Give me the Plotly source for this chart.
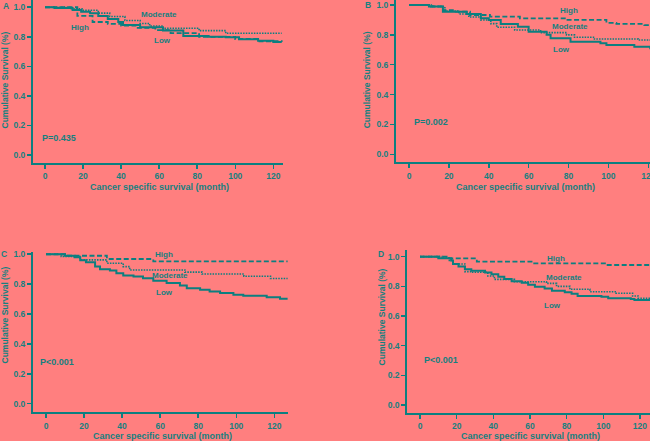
import plotly.graph_objects as go

# ---------------- data ----------------
# Panel A
a_low_t = [0, 5, 14.5, 19, 23.7, 28, 33, 38.5, 41, 50, 62, 72.7, 86, 95, 102, 112, 120, 124.4]
a_low_s = [1.0, 0.995, 0.982, 0.97, 0.96, 0.94, 0.92, 0.90, 0.88, 0.865, 0.842, 0.806, 0.80, 0.797, 0.783, 0.774, 0.765, 0.765]
a_mod_t = [0, 13, 20, 28, 34, 42, 50, 55, 62, 81, 95, 124.4]
a_mod_s = [1.0, 0.99, 0.98, 0.96, 0.937, 0.91, 0.89, 0.873, 0.858, 0.842, 0.824, 0.824]
a_high_t = [0, 17, 25, 33, 40, 48, 58, 66, 81, 100, 112, 124.4]
a_high_s = [1.0, 0.941, 0.90, 0.887, 0.875, 0.86, 0.845, 0.825, 0.80, 0.785, 0.77, 0.765]

# Panel B
b_low_t = [0, 10, 17, 29, 36, 40, 46, 54.6, 60, 69, 71, 81, 96, 99, 113, 121]
b_low_s = [1.0, 0.99, 0.955, 0.94, 0.911, 0.90, 0.873, 0.855, 0.821, 0.80, 0.777, 0.754, 0.743, 0.732, 0.721, 0.703]
b_mod_t = [0, 12, 18, 25, 30, 36, 41, 44, 53, 66, 79, 83, 93, 115, 121]
b_mod_s = [1.0, 0.99, 0.96, 0.94, 0.92, 0.90, 0.875, 0.851, 0.833, 0.815, 0.80, 0.784, 0.772, 0.766, 0.766]
b_high_t = [0, 10, 17, 22, 30.6, 40.6, 55.6, 79, 99, 104, 118, 121]
b_high_s = [1.0, 0.99, 0.966, 0.955, 0.933, 0.922, 0.911, 0.90, 0.88, 0.873, 0.865, 0.865]

# Panel C
c_low_t = [0, 10, 15, 18, 21, 25.8, 28.4, 33.6, 37, 40.6, 46, 51, 56.4, 63.4, 70.4, 74, 81, 86, 91.5, 98.5, 103.7, 116, 123, 127]
c_low_s = [1.0, 0.99, 0.98, 0.96, 0.947, 0.918, 0.90, 0.891, 0.873, 0.858, 0.851, 0.84, 0.822, 0.807, 0.791, 0.773, 0.762, 0.751, 0.74, 0.729, 0.722, 0.713, 0.702, 0.702]
c_mod_t = [0, 8, 18, 32, 40.6, 44, 73, 82, 104, 118, 127]
c_mod_s = [1.0, 0.985, 0.962, 0.94, 0.917, 0.895, 0.88, 0.868, 0.853, 0.838, 0.838]
c_high_t = [0, 11, 32, 56.4, 127]
c_high_s = [1.0, 0.99, 0.968, 0.952, 0.952]

# Panel D
d_low_t = [0, 10, 17, 18, 21, 24.5, 28, 35.5, 39, 42.7, 46, 50, 55.5, 59, 62.7, 68, 72, 79, 82.7, 86, 99, 102.7, 115, 117, 126]
d_low_s = [1.0, 0.99, 0.975, 0.95, 0.933, 0.915, 0.905, 0.894, 0.881, 0.865, 0.85, 0.835, 0.825, 0.81, 0.798, 0.785, 0.771, 0.76, 0.75, 0.735, 0.73, 0.719, 0.715, 0.708, 0.708]
d_mod_t = [0, 12, 16, 18, 24.5, 28, 37, 40.6, 51.5, 69, 74.5, 81.8, 92.7, 107, 116, 119, 126]
d_mod_s = [1.0, 0.99, 0.975, 0.951, 0.899, 0.895, 0.87, 0.847, 0.831, 0.82, 0.80, 0.78, 0.764, 0.753, 0.735, 0.72, 0.72]
d_high_t = [0, 16, 31, 61.7, 101.8, 126]
d_high_s = [1.0, 0.988, 0.966, 0.955, 0.944, 0.944]

group_names = ["High", "Moderate", "Low"]
panel_letters = ["A", "B", "C", "D"]
p_values = ["P=0.435", "P=0.002", "P<0.001", "P<0.001"]
x_ticks = [0, 20, 40, 60, 80, 100, 120]
y_ticks = [0.0, 0.2, 0.4, 0.6, 0.8, 1.0]
x_title = "Cancer specific survival (month)"
y_title = "Cumulative Survival (%)"

# label positions (data coords) per panel: High, Moderate, Low
label_pos = [
    [(18.6, 0.862), (59.8, 0.953), (61.7, 0.772)],
    [(80.2, 0.960), (80.7, 0.855), (76.6, 0.703)],
    [(62.2, 1.000), (65.2, 0.857), (62.4, 0.746)],
    [(74.2, 0.989), (78.4, 0.862), (72.4, 0.668)],
]
p_pos = [(-2.6, 0.117), (1.7, 0.214), (-4.0, 0.281), (1.2, 0.300)]

# ---------------- layout geometry (pixels) ----------------
W, H = 650, 441
BG = "#FF7F7F"
TEAL = "#0b7f80"
TXT = "#16807f"
FONT = "Liberation Sans, Arial, sans-serif"

# (x0px, x1px, ytop_px, ybottom_px, xrange, yrange)
panels = [
    (33, 283, 0, 162.7, [-6.31, 125.1], [-0.052, 1.049]),
    (396, 650, 0, 162.3, [-6.52, 120.86], [-0.0536, 1.0335]),
    (33, 288, 251.7, 412.3, [-6.83, 127.2], [-0.0576, 1.017]),
    (407.3, 650, 250, 412.7, [-6.93, 125.5], [-0.052, 1.045]),
]
letter_px = [(5.5, 5.5), (368.3, 5), (3.5, 254), (381, 254.3)]
ytitle_px = [(4.5, 80), (367.3, 80), (4.5, 315), (381.7, 316.7)]
xtitle_px = [(159.5, 187), (525, 186.7), (162, 435.5), (530, 435.5)]

data = [
    [(a_high_t, a_high_s), (a_mod_t, a_mod_s), (a_low_t, a_low_s)],
    [(b_high_t, b_high_s), (b_mod_t, b_mod_s), (b_low_t, b_low_s)],
    [(c_high_t, c_high_s), (c_mod_t, c_mod_s), (c_low_t, c_low_s)],
    [(d_high_t, d_high_s), (d_mod_t, d_mod_s), (d_low_t, d_low_s)],
]
styles = [
    dict(dash="5px,2.5px", width=1.8),
    dict(dash="1.5px,1.2px", width=1.6),
    dict(dash="solid", width=2.0),
]

fig = go.Figure()
layout = dict(
    width=W, height=H,
    margin=dict(l=0, r=0, t=0, b=0, pad=0),
    paper_bgcolor=BG, plot_bgcolor=BG,
    showlegend=False,
    font=dict(family=FONT, color=TXT, size=9),
)
annotations = []

for i, (x0, x1, yt, yb, xr, yr) in enumerate(panels):
    n = "" if i == 0 else str(i + 1)
    xa = "x" + n
    ya = "y" + n
    for g, (t, s) in enumerate(data[i]):
        fig.add_trace(go.Scatter(
            x=t, y=s, mode="lines", line_shape="hv",
            line=dict(color=TEAL, **styles[g]),
            xaxis=xa, yaxis=ya, name=group_names[g], hoverinfo="skip",
        ))
    axis_common = dict(
        showgrid=False, zeroline=False, showline=True, linecolor=TEAL, linewidth=2,
        ticks="outside", ticklen=4, tickwidth=1.5, tickcolor=TEAL,
        automargin=False, ticklabeloverflow="allow",
        tickfont=dict(family=FONT, size=8.5, color=TXT, weight="bold"),
    )
    layout["xaxis" + n] = dict(
        domain=[x0 / W, x1 / W], range=xr, anchor=ya,
        tickvals=x_ticks, **axis_common,
    )
    layout["yaxis" + n] = dict(
        domain=[1 - yb / H, 1 - yt / H], range=yr, anchor=xa,
        tickvals=y_ticks, tickformat=".1f", **axis_common,
    )
    # curve labels
    for g, (lx, ly) in enumerate(label_pos[i]):
        annotations.append(dict(
            x=lx, y=ly, xref=xa, yref=ya, text=group_names[g], showarrow=False,
            xanchor="center", yanchor="middle",
            font=dict(family=FONT, size=8, color=TXT, weight="bold"),
        ))
    # p-value
    px_, py_ = p_pos[i]
    annotations.append(dict(
        x=px_, y=py_, xref=xa, yref=ya, text=p_values[i], showarrow=False,
        xanchor="left", yanchor="middle",
        font=dict(family=FONT, size=9, color=TXT, weight="bold"),
    ))
    # panel letter
    lx, ly = letter_px[i]
    annotations.append(dict(
        x=lx / W, y=1 - ly / H, xref="paper", yref="paper", text=panel_letters[i],
        showarrow=False, xanchor="center", yanchor="middle",
        font=dict(family=FONT, size=8.5, color=TXT, weight="bold"),
    ))
    # axis titles
    tx, ty = ytitle_px[i]
    annotations.append(dict(
        x=tx / W, y=1 - ty / H, xref="paper", yref="paper", text=y_title,
        showarrow=False, textangle=-90, xanchor="center", yanchor="middle",
        font=dict(family=FONT, size=8.5, color=TXT, weight="bold"),
    ))
    tx, ty = xtitle_px[i]
    annotations.append(dict(
        x=tx / W, y=1 - ty / H, xref="paper", yref="paper", text=x_title,
        showarrow=False, xanchor="center", yanchor="middle",
        font=dict(family=FONT, size=9, color=TXT, weight="bold"),
    ))

layout["annotations"] = annotations
fig.update_layout(**layout)
fig.write_html(
    "out.html",
    config={"displayModeBar": False, "staticPlot": True},
    post_script="document.body.style.margin='0';document.body.style.padding='0';"
                "document.body.style.background='" + BG + "';",
)
